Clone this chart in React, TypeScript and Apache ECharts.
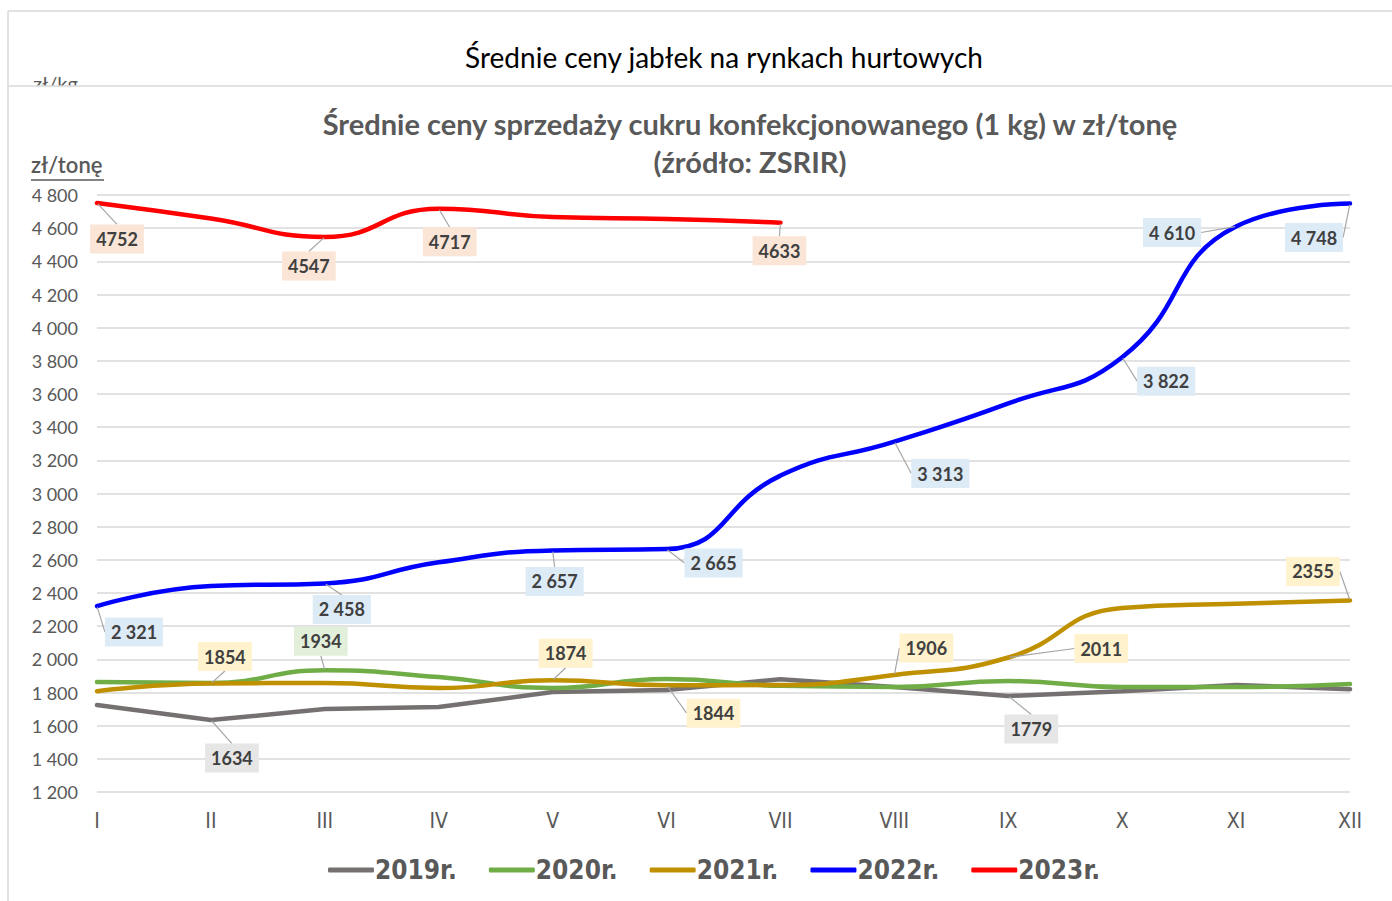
import React, { useEffect, useRef } from "react";
import * as echarts from "echarts";

const months = ["I", "II", "III", "IV", "V", "VI", "VII", "VIII", "IX", "X", "XI", "XII"];
const yTicks = [1200, 4800, 200]; // min, max, interval

const s2019 = [1724, 1634, 1700, 1712, 1803, 1815, 1880, 1833, 1779, 1808, 1845, 1820];
const s2020 = [1863, 1858, 1934, 1893, 1827, 1881, 1840, 1833, 1869, 1833, 1833, 1851];
const s2021 = [1808, 1854, 1857, 1827, 1874, 1844, 1845, 1906, 2011, 2310, 2335, 2355];
const s2022 = [2321, 2442, 2458, 2585, 2657, 2665, 3108, 3313, 3543, 3822, 4610, 4748];
const s2023 = [4752, 4658, 4547, 4717, 4667, 4655, 4633, null, null, null, null, null];

const seriesNames = ["2019r.", "2020r.", "2021r.", "2022r.", "2023r."];
const seriesColors = ["#767171", "#70AD47", "#BF9000", "#0000FF", "#FF0000"];
const labelBg = ["#E7E6E6", "#E2EFDA", "#FFF2CC", "#DDEBF7", "#FBE5D6"];

// label offsets (dx, dy) from the point, by month index
const labelOffsets: Record<number, [number, number]>[] = [
  { 1: [21, 38], 8: [23, 33] },
  { 2: [-4, -29] },
  { 1: [14, -27], 4: [13, -27], 5: [47, 28], 7: [32, -27], 8: [93, -9], 11: [-37, -29] },
  { 0: [37, 26], 2: [17, 26], 4: [2, 31], 5: [47, 14], 7: [46, 32], 9: [44, 24], 10: [-64, 6], 11: [-36, 34] },
  { 0: [20, 36], 2: [-16, 29], 3: [11, 33], 6: [-1, 28] },
];

const spaced = (v: number) => String(v).replace(/\B(?=(\d{3})+(?!\d))/g, " ");

export default function App() {
  const ref = useRef<HTMLDivElement>(null);
  useEffect(() => {
    if (!ref.current) return;
    const chart = echarts.init(ref.current, null, { renderer: "svg" });
    const all = [s2019, s2020, s2021, s2022, s2023];
    const series = all.map((arr, si) => ({
      name: seriesNames[si],
      type: "line",
      data: arr.map((v, i) =>
        labelOffsets[si][i] && v != null ? { value: v, label: { show: true } } : v
      ),
      smooth: si === 0 ? false : 0.5,
      symbol: "circle",
      symbolSize: 2,
      showSymbol: true,
      connectNulls: false,
      z: 2 + si,
      lineStyle: { color: seriesColors[si], width: 4.5, cap: "round" },
      itemStyle: { color: seriesColors[si] },
      label: {
        show: false,
        position: "inside",
        formatter: (p: any) => (si === 3 ? spaced(p.value) : String(p.value)),
        fontFamily: "Lato",
        fontWeight: "bold",
        fontSize: 18,
        color: "#404040",
        backgroundColor: labelBg[si],
        padding: [6, 6, 5, 6],
      },
      labelLine: {
        show: true,
        length2: 0,
        lineStyle: { color: "#A6A6A6", width: 1.2 },
      },
      labelLayout: (p: any) => {
        const o = labelOffsets[si][p.dataIndex];
        return o ? { dx: o[0], dy: o[1] } : {};
      },
      emphasis: { disabled: true },
    }));

    chart.setOption({
      animation: false,
      backgroundColor: "#ffffff",
      title: {
        text: "Średnie ceny sprzedaży cukru konfekcjonowanego (1 kg) w zł/tonę\n(źródło: ZSRIR)",
        left: 745,
        top: 99,
        textAlign: "center",
        textStyle: {
          fontFamily: "Lato",
          fontWeight: "bold",
          fontSize: 29,
          color: "#595959",
          lineHeight: 38,
        },
      },
      grid: { left: 97, right: 42, top: 195, bottom: 109 },
      xAxis: {
        type: "category",
        data: months,
        boundaryGap: false,
        axisLine: { show: false },
        axisTick: { show: false },
        axisLabel: {
          fontFamily: "Liberation Sans Narrow, DejaVu Sans Condensed, sans-serif",
          fontSize: 21,
          color: "#595959",
          margin: 18,
        },
      },
      yAxis: {
        type: "value",
        min: yTicks[0],
        max: yTicks[1],
        interval: yTicks[2],
        axisLine: { show: false },
        axisTick: { show: false },
        splitLine: { lineStyle: { color: "#D9D9D9", width: 1.5 } },
        axisLabel: {
          fontFamily: "Lato",
          fontSize: 18,
          color: "#595959",
          margin: 19,
          formatter: (v: number) => spaced(v),
        },
      },
      legend: {
        data: seriesNames,
        left: 323,
        top: 852,
        icon: "roundRect",
        itemWidth: 46,
        itemHeight: 5,
        itemGap: 32,
        textStyle: {
          fontFamily: "Liberation Sans Narrow, DejaVu Sans Condensed, sans-serif",
          fontWeight: "bold",
          fontSize: 26,
          color: "#595959",
          padding: [0, 0, 0, -4],
        },
      },
      graphic: [
        { type: "line", shape: { x1: 8, y1: 11, x2: 1392, y2: 11 }, style: { stroke: "#D9D9D9", lineWidth: 1.5 }, z: 1 },
        { type: "line", shape: { x1: 8, y1: 11, x2: 8, y2: 901 }, style: { stroke: "#D9D9D9", lineWidth: 1.5 }, z: 1 },
        {
          type: "text",
          x: 724,
          y: 57,
          style: {
            text: "Średnie ceny jabłek na rynkach hurtowych",
            fontFamily: "Lato",
            fontSize: 28,
            fill: "#000000",
            textAlign: "center",
            textVerticalAlign: "middle",
          },
          z: 1,
        },
        {
          type: "text",
          x: 33,
          y: 73,
          style: { text: "zł/kg", fontFamily: "Lato", fontSize: 20, fill: "#595959" },
          z: 1,
        },
        { type: "rect", shape: { x: 9, y: 86, width: 1383, height: 20 }, style: { fill: "#ffffff" }, z: 2 },
        { type: "line", shape: { x1: 8, y1: 86, x2: 1392, y2: 86 }, style: { stroke: "#D9D9D9", lineWidth: 1.5 }, z: 3 },
        {
          type: "text",
          x: 31,
          y: 153,
          style: { text: "zł/tonę", fontFamily: "Lato", fontWeight: 600, fontSize: 22, fill: "#595959" },
          z: 3,
        },
        { type: "line", shape: { x1: 31, y1: 180, x2: 104, y2: 180 }, style: { stroke: "#595959", lineWidth: 1.5 }, z: 3 },
      ],
      series,
    });
    return () => chart.dispose();
  }, []);
  return (
    <div
      ref={ref}
      style={{ position: "absolute", left: 0, top: 0, width: 1392, height: 901, background: "#fff" }}
    />
  );
}
